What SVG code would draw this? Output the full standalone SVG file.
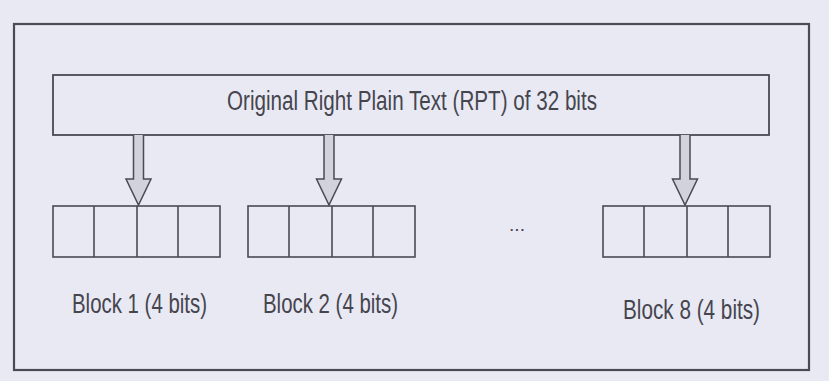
<svg xmlns="http://www.w3.org/2000/svg" width="829" height="381" viewBox="0 0 829 381">
<defs>
<style>
.bg{fill:#e9e9f4}
.frame{fill:none;stroke:#4a4a52;stroke-width:2.2}
.box{fill:none;stroke:#4a4a52;stroke-width:1.8}
.cell{fill:none;stroke:#4a4a52;stroke-width:1.6}
.arrow{fill:#d2d2dc;stroke:#4a4a52;stroke-width:1.5;stroke-linejoin:miter}
.lbl{font-family:"Liberation Sans",Arial,sans-serif;fill:#45454e}
</style>
<path id="arr" d="M-5,0 V44 H-12.5 L0,70 L12.5,44 H5 V0"/>
<g id="cells">
<rect class="cell" x="0" y="0" width="167" height="51"/>
<line class="cell" x1="41" y1="0" x2="41" y2="51"/>
<line class="cell" x1="84" y1="0" x2="84" y2="51"/>
<line class="cell" x1="125" y1="0" x2="125" y2="51"/>
</g>
</defs>
<rect class="bg" x="0" y="0" width="829" height="381"/>
<rect class="frame" x="14" y="24" width="795" height="346"/>
<g id="rpt">
<rect class="box" x="53" y="75" width="716" height="60"/>
<text class="lbl" x="227" y="110" font-size="27" textLength="370" lengthAdjust="spacingAndGlyphs">Original Right Plain Text (RPT) of 32 bits</text>
</g>
<g id="connectors">
<use href="#arr" class="arrow" transform="translate(138.5,135)"/>
<use href="#arr" class="arrow" transform="translate(329,135)"/>
<use href="#arr" class="arrow" transform="translate(685,135)"/>
</g>
<g id="block1">
<use href="#cells" transform="translate(53,206)"/>
<text class="lbl" x="72" y="313" font-size="28" textLength="135" lengthAdjust="spacingAndGlyphs">Block 1 (4 bits)</text>
</g>
<g id="block2">
<use href="#cells" transform="translate(248,206)"/>
<text class="lbl" x="263" y="313" font-size="28" textLength="135" lengthAdjust="spacingAndGlyphs">Block 2 (4 bits)</text>
</g>
<g id="ellipsis">
<text class="lbl" x="509" y="231" font-size="18" textLength="16" lengthAdjust="spacingAndGlyphs">...</text>
</g>
<g id="block8">
<use href="#cells" transform="translate(603,206)"/>
<text class="lbl" x="623" y="319" font-size="28" textLength="137" lengthAdjust="spacingAndGlyphs">Block 8 (4 bits)</text>
</g>
</svg>
